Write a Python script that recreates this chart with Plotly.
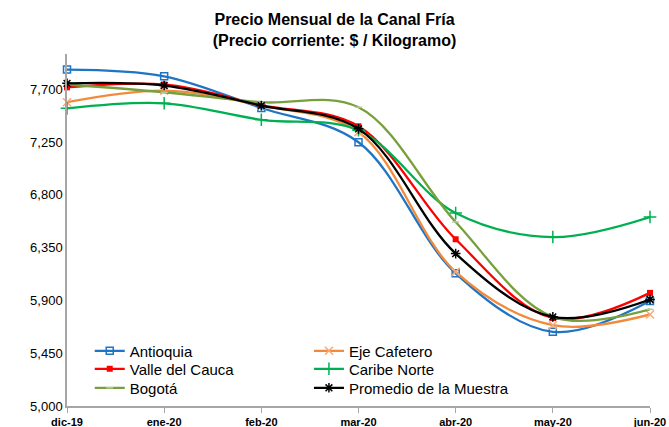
import plotly.graph_objects as go

meses = ["dic-19", "ene-20", "feb-20", "mar-20", "abr-20", "may-20", "jun-20"]

antioquia = [7867, 7810, 7540, 7248, 6131, 5632, 5895]
eje_cafetero = [7589, 7688, 7560, 7334, 6143, 5689, 5780]
valle_cauca = [7716, 7740, 7565, 7384, 6421, 5750, 5964]
caribe_norte = [7537, 7580, 7439, 7350, 6644, 6440, 6611]
bogota = [7740, 7674, 7589, 7546, 6568, 5760, 5823]
promedio = [7750, 7731, 7560, 7362, 6299, 5760, 5908]

ytick_vals = [5000, 5450, 5900, 6350, 6800, 7250, 7700]

FONT = "Liberation Sans, Arial, sans-serif"

series = [
    ("Antioquia", antioquia, "#1F74C4", dict(symbol="square-open", size=7, color="#1F74C4", line=dict(width=1.5)), "legend"),
    ("Eje Cafetero", eje_cafetero, "#F28A3C", dict(symbol="x-thin-open", size=8, color="#F6A978", line=dict(width=1.5, color="#F6A978")), "legend2"),
    ("Valle del Cauca", valle_cauca, "#FF0000", dict(symbol="square", size=6, color="#FF0000"), "legend3"),
    ("Caribe Norte", caribe_norte, "#00B050", dict(symbol="cross-thin-open", size=9, color="#00B050", line=dict(width=1.5, color="#00B050")), "legend4"),
    ("Bogotá", bogota, "#77A03C", dict(symbol="line-ew-open", size=5, color="#B5C99A", line=dict(width=1.5, color="#B5C99A")), "legend5"),
    ("Promedio de la Muestra", promedio, "#000000", dict(symbol="asterisk-open", size=8, color="#000000", line=dict(width=1.5, color="#000000")), "legend6"),
]

fig = go.Figure()
for name, vals, col, mk, lg in series:
    fig.add_trace(go.Scatter(
        x=meses, y=vals, name=name, mode="lines+markers",
        line=dict(color=col, width=2.3, shape="spline", smoothing=1.0),
        marker=mk, cliponaxis=False, legend=lg,
    ))

legend_x = {"legend": 0.039, "legend3": 0.039, "legend5": 0.039,
            "legend2": 0.415, "legend4": 0.415, "legend6": 0.415}
legend_y = {"legend": 0.156, "legend2": 0.156,
            "legend3": 0.105, "legend4": 0.105,
            "legend5": 0.051, "legend6": 0.051}
legend_layout = {}
for key in legend_x:
    legend_layout[key] = dict(
        x=legend_x[key], y=legend_y[key], xanchor="left", yanchor="middle",
        bgcolor="rgba(0,0,0,0)", font=dict(size=15, family=FONT),
        itemwidth=30,
    )

fig.update_layout(
    width=669, height=427,
    margin=dict(l=67, r=19, t=54, b=21),
    paper_bgcolor="white", plot_bgcolor="white",
    font=dict(family=FONT, size=12, color="#000000"),
    title=dict(
        text="<b>Precio Mensual de la Canal Fría<br>(Precio corriente: $ / Kilogramo)</b>",
        x=0.5, xanchor="center", y=0.942, yanchor="top", yref="container",
        font=dict(family="Liberation Sans Narrow, " + FONT, size=16, color="#000000"),
    ),
    showlegend=True,
    **legend_layout,
)

fig.update_xaxes(
    type="category", range=[0, 6], automargin=False,
    showline=True, linecolor="#A6A6A6", linewidth=1.5,
    ticks="outside", ticklen=5, tickcolor="#A6A6A6",
    showgrid=False, zeroline=False,
    tickfont=dict(size=11, family=FONT, color="#000000"),
    tickprefix="<b>", ticksuffix="</b>",
)
fig.update_yaxes(
    range=[5000, 8000], tickvals=ytick_vals, tickformat=",d", automargin=False,
    showline=True, linecolor="#A6A6A6", linewidth=1.5,
    showgrid=False, zeroline=False, ticks="",
    tickfont=dict(size=13, family=FONT, color="#000000"),
)

fig.write_html(
    "out.html",
    config={"displayModeBar": False},
    post_script="document.body.style.margin='0';document.body.style.overflow='hidden';",
)
